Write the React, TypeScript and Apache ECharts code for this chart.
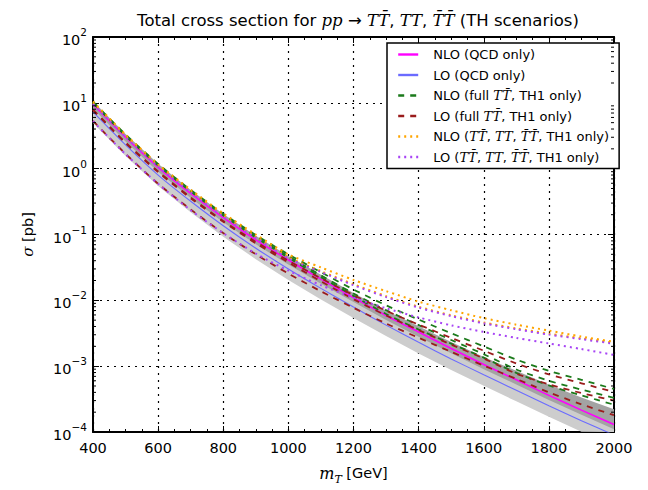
import React, { useEffect, useRef } from "react";
import * as echarts from "echarts";

// ---------------- data ----------------
const masses = [400, 500, 600, 700, 800, 900, 1000, 1100, 1200, 1300, 1400, 1500, 1600, 1700, 1800, 1900, 2000];

const nloQcd = [9.5, 3.0, 1.05, 0.42, 0.18, 0.083, 0.041, 0.021, 0.011, 0.0059, 0.0033, 0.00185, 0.00106, 0.00062, 0.00036, 0.000215, 0.00013];
const loQcd = [7.3, 2.3, 0.8, 0.32, 0.136, 0.062, 0.03, 0.0152, 0.0079, 0.0042, 0.0023, 0.00129, 0.00074, 0.00043, 0.00025, 0.000148, 0.00009];

const nloBandHi = [10.6, 3.36, 1.19, 0.475, 0.205, 0.0955, 0.0472, 0.0244, 0.0129, 0.00702, 0.00403, 0.00233, 0.00138, 0.00085, 0.00052, 0.000335, 0.000221];
const nloBandLo = [8.2, 2.58, 0.9, 0.36, 0.154, 0.071, 0.035, 0.0179, 0.0094, 0.00503, 0.0028, 0.00157, 0.0009, 0.000527, 0.000306, 0.000183, 0.00011];
const loBandHi = [9.5, 3.0, 1.04, 0.416, 0.177, 0.0806, 0.039, 0.0198, 0.0103, 0.00546, 0.003, 0.00168, 0.00096, 0.00056, 0.000325, 0.000192, 0.000117];
const loBandLo = [4.96, 1.56, 0.544, 0.218, 0.0925, 0.0422, 0.0204, 0.0103, 0.00537, 0.00286, 0.00156, 0.000877, 0.000503, 0.000292, 0.00017, 0.000101, 0.0000612];

const nloFullA = [10.4, 3.3, 1.18, 0.475, 0.207, 0.098, 0.05, 0.0267, 0.0146, 0.0084, 0.0051, 0.00316, 0.002, 0.00126, 0.00085, 0.00062, 0.00045];
const nloFullB = [10.2, 3.22, 1.15, 0.46, 0.2, 0.093, 0.047, 0.024, 0.0127, 0.0071, 0.0042, 0.0025, 0.00152, 0.00089, 0.0006, 0.00044, 0.00033];
const nloFullC = [10.0, 3.15, 1.12, 0.45, 0.195, 0.09, 0.0445, 0.0225, 0.0117, 0.0062, 0.0036, 0.0022, 0.00135, 0.00079, 0.00051, 0.00036, 0.00026];

const loFullA = [7.9, 2.5, 0.91, 0.366, 0.161, 0.0774, 0.04, 0.0216, 0.012, 0.00697, 0.00428, 0.00269, 0.00172, 0.0011, 0.00075, 0.00055, 0.000405];
const loFullB = [7.75, 2.45, 0.885, 0.354, 0.156, 0.0735, 0.0376, 0.0194, 0.0104, 0.0059, 0.00353, 0.00213, 0.00131, 0.00077, 0.00053, 0.00039, 0.0003];
const loFullC = [5.3, 1.68, 0.59, 0.24, 0.105, 0.05, 0.0255, 0.0137, 0.0077, 0.00445, 0.0027, 0.00165, 0.00102, 0.00064, 0.0004, 0.000263, 0.00018];

const nloAllA = [10.5, 3.3, 1.17, 0.48, 0.21, 0.1, 0.05, 0.0316, 0.0204, 0.0138, 0.00955, 0.00708, 0.00537, 0.00427, 0.00347, 0.00282, 0.00234];
const nloAllB = [9.9, 3.12, 1.1, 0.45, 0.193, 0.092, 0.0452, 0.0278, 0.0176, 0.0116, 0.008, 0.00594, 0.00462, 0.00375, 0.00312, 0.00265, 0.00226];
const loAllA = [9.55, 3.02, 1.07, 0.436, 0.186, 0.0891, 0.0437, 0.0269, 0.017, 0.0112, 0.00776, 0.00575, 0.00447, 0.00363, 0.00302, 0.00257, 0.00219];
const loAllB = [5.25, 1.66, 0.589, 0.234, 0.105, 0.0513, 0.0282, 0.017, 0.011, 0.00759, 0.0055, 0.00417, 0.00331, 0.00269, 0.00221, 0.00182, 0.00148];

const decades = [1e-4, 1e-3, 1e-2, 1e-1, 1, 10];
const minorMultipliers = [2, 3, 4, 5, 6, 7, 8, 9];

const NAME_NLO_QCD = "NLO (QCD only)";
const NAME_LO_QCD = "LO (QCD only)";
const NAME_NLO_FULL = "NLO (full TT\u0304, TH1 only)";
const NAME_LO_FULL = "LO (full TT\u0304, TH1 only)";
const NAME_NLO_ALL = "NLO (TT\u0304, TT, T\u0304T\u0304, TH1 only)";
const NAME_LO_ALL = "LO (TT\u0304, TT, T\u0304T\u0304, TH1 only)";

const legendRich: Record<string, string> = {
  [NAME_NLO_QCD]: "NLO (QCD only)",
  [NAME_LO_QCD]: "LO (QCD only)",
  [NAME_NLO_FULL]: "NLO (full {m|TT\u0304}, TH1 only)",
  [NAME_LO_FULL]: "LO (full {m|TT\u0304}, TH1 only)",
  [NAME_NLO_ALL]: "NLO ({m|TT\u0304}, {m|TT}, {m|T\u0304T\u0304}, TH1 only)",
  [NAME_LO_ALL]: "LO ({m|TT\u0304}, {m|TT}, {m|T\u0304T\u0304}, TH1 only)",
};

const SANS = "DejaVu Sans";
const SERIF = "DejaVu Serif";

const superDigits = (v: number) => {
  const e = Math.round(Math.log10(v));
  return "{b|10}{s|" + (e < 0 ? "\u2212" + -e : String(e)) + "}";
};

function lineSeries(name: string, values: number[], color: string, width: number, type: any, z: number) {
  return {
    type: "line",
    name,
    data: masses.map((m, i) => [m, values[i]]),
    symbol: "none",
    showSymbol: false,
    smooth: 0.25,
    clip: true,
    silent: true,
    z,
    lineStyle: { color, width, type, cap: "butt" },
    itemStyle: { color },
  };
}

function bandSeries(hi: number[], lo: number[], color: string, z: number) {
  return {
    type: "custom",
    coordinateSystem: "cartesian2d",
    silent: true,
    z,
    data: [[masses[0], hi[0]]],
    renderItem: (params: any, api: any) => {
      const cs = params.coordSys;
      const top = masses.map((m, i) => api.coord([m, hi[i]]));
      const bot = masses.map((m, i) => api.coord([m, lo[i]])).reverse();
      const pts = (echarts.graphic as any).clipPointsByRect(top.concat(bot), {
        x: cs.x,
        y: cs.y,
        width: cs.width,
        height: cs.height,
      });
      return { type: "polygon", shape: { points: pts }, style: { fill: color, stroke: "none" } };
    },
  };
}

export default function App() {
  const ref = useRef<HTMLDivElement>(null);

  useEffect(() => {
    const chart = echarts.init(ref.current!, undefined, { renderer: "svg" });

    const minorTickData: number[][] = [];
    decades.forEach((d) => minorMultipliers.forEach((k) => minorTickData.push([masses[0], d * k])));

    const dashed = [6, 6];
    const dotted = [2, 4];

    const option: any = {
      animation: false,
      backgroundColor: "#ffffff",
      title: {
        text: "Total cross section for {m|pp} \u2192 {m|TT\u0304}, {m|TT}, {m|T\u0304T\u0304} (TH scenarios)",
        left: 353,
        top: 7,
        textAlign: "center",
        textStyle: {
          fontFamily: SANS,
          fontSize: 16.5,
          fontWeight: "normal",
          color: "#000",
          rich: {
            m: { fontFamily: SERIF, fontStyle: "italic", fontSize: 16.5, color: "#000" },
          },
        },
      },
      legend: {
        orient: "vertical",
        left: 387,
        top: 43,
        padding: [5, 10, 5, 10],
        itemGap: 7.5,
        itemWidth: 20,
        itemHeight: 14,
        borderColor: "#000",
        borderWidth: 1.5,
        borderRadius: 0,
        backgroundColor: "#ffffff",
        selectedMode: false,
        itemStyle: { opacity: 0 },
        lineStyle: { width: 2.4 },
        data: [NAME_NLO_QCD, NAME_LO_QCD, NAME_NLO_FULL, NAME_LO_FULL, NAME_NLO_ALL, NAME_LO_ALL],
        formatter: (name: string) => legendRich[name] || name,
        textStyle: {
          fontFamily: SANS,
          fontSize: 13,
          color: "#000",
          padding: [0, 0, 0, 10],
          rich: {
            m: { fontFamily: SERIF, fontStyle: "italic", fontSize: 13, color: "#000" },
          },
        },
      },
      grid: { left: 93, right: 34, top: 37, bottom: 49, containLabel: false },
      xAxis: [
        {
          type: "value",
          min: 400,
          max: 2000,
          interval: 200,
          position: "bottom",
          name: "{i|m}{sub|T}{n| [GeV]}",
          nameLocation: "middle",
          nameGap: 33,
          nameTextStyle: {
            rich: {
              i: { fontFamily: SERIF, fontStyle: "italic", fontSize: 16, lineHeight: 20, verticalAlign: "top", color: "#000" },
              sub: { fontFamily: SERIF, fontStyle: "italic", fontSize: 11, verticalAlign: "bottom", color: "#000" },
              n: { fontFamily: SANS, fontSize: 14.5, verticalAlign: "top", color: "#000" },
            },
          },
          axisLine: { show: true, onZero: false, lineStyle: { color: "#000", width: 2 } },
          axisTick: { show: true, inside: true, length: 6, lineStyle: { color: "#000", width: 1 } },
          minorTick: { show: true, splitNumber: 4, length: 3, lineStyle: { color: "#000", width: 1 } },
          axisLabel: {
            show: true,
            margin: 8,
            fontFamily: SANS,
            fontSize: 14.5,
            color: "#000",
            formatter: (v: number) => String(v),
          },
          splitLine: { show: true, lineStyle: { color: "#000", width: 1.2, type: [2, 5] } },
          minorSplitLine: { show: false },
        },
        {
          type: "value",
          min: 400,
          max: 2000,
          interval: 200,
          position: "top",
          axisLine: { show: true, onZero: false, lineStyle: { color: "#000", width: 2 } },
          axisTick: { show: true, inside: true, length: 6, lineStyle: { color: "#000", width: 1 } },
          minorTick: { show: true, splitNumber: 4, length: 3, lineStyle: { color: "#000", width: 1 } },
          axisLabel: { show: false },
          splitLine: { show: false },
        },
      ],
      yAxis: [
        {
          type: "log",
          logBase: 10,
          min: 1e-4,
          max: 1e2,
          splitNumber: 6,
          position: "left",
          name: "{i|\u03c3}{n| [pb]}",
          nameLocation: "middle",
          nameRotate: 90,
          nameGap: 58,
          nameTextStyle: {
            rich: {
              i: { fontFamily: SERIF, fontStyle: "italic", fontSize: 15, color: "#000" },
              n: { fontFamily: SANS, fontSize: 14.5, color: "#000" },
            },
          },
          axisLine: { show: true, onZero: false, lineStyle: { color: "#000", width: 2 } },
          axisTick: { show: true, inside: true, length: 6, lineStyle: { color: "#000", width: 1 } },
          axisLabel: {
            show: true,
            margin: 6,
            formatter: (v: number) => superDigits(v),
            rich: {
              b: { fontFamily: SANS, fontSize: 14.5, lineHeight: 21, verticalAlign: "bottom", color: "#000" },
              s: { fontFamily: SANS, fontSize: 10.5, verticalAlign: "top", color: "#000" },
            },
          },
          splitLine: { show: true, lineStyle: { color: "#000", width: 1.2, type: [2, 5] } },
        },
        {
          type: "log",
          logBase: 10,
          min: 1e-4,
          max: 1e2,
          splitNumber: 6,
          position: "right",
          axisLine: { show: true, onZero: false, lineStyle: { color: "#000", width: 2 } },
          axisTick: { show: true, inside: true, length: 6, lineStyle: { color: "#000", width: 1 } },
          axisLabel: { show: false },
          splitLine: { show: false },
        },
      ],
      series: [
        bandSeries(loBandHi, loBandLo, "#cdcdcd", 1),
        bandSeries(nloBandHi, nloBandLo, "#a3a3a3", 1),
        {
          type: "custom",
          coordinateSystem: "cartesian2d",
          silent: true,
          z: 5,
          data: minorTickData,
          renderItem: (params: any, api: any) => {
            const cs = params.coordSys;
            const y = api.coord([api.value(0), api.value(1)])[1];
            const st = { stroke: "#000", lineWidth: 1 };
            return {
              type: "group",
              children: [
                { type: "line", shape: { x1: cs.x, y1: y, x2: cs.x + 3, y2: y }, style: st },
                { type: "line", shape: { x1: cs.x + cs.width - 3, y1: y, x2: cs.x + cs.width, y2: y }, style: st },
              ],
            };
          },
        },
        lineSeries(NAME_NLO_QCD, nloQcd, "#ff00ff", 1.6, "solid", 3),
        lineSeries(NAME_LO_QCD, loQcd, "#6b6bff", 1.1, "solid", 3),
        lineSeries(NAME_NLO_FULL, nloFullA, "#1b7a1b", 1.8, dashed, 3),
        lineSeries(NAME_NLO_FULL, nloFullB, "#1b7a1b", 1.8, dashed, 3),
        lineSeries(NAME_NLO_FULL, nloFullC, "#1b7a1b", 1.8, dashed, 3),
        lineSeries(NAME_LO_FULL, loFullA, "#9a1c1c", 1.8, dashed, 3),
        lineSeries(NAME_LO_FULL, loFullB, "#9a1c1c", 1.8, dashed, 3),
        lineSeries(NAME_LO_FULL, loFullC, "#9a1c1c", 1.8, dashed, 3),
        lineSeries(NAME_NLO_ALL, nloAllA, "#ffa500", 2, dotted, 3),
        lineSeries(NAME_NLO_ALL, nloAllB, "#ffa500", 2, dotted, 3),
        lineSeries(NAME_LO_ALL, loAllA, "#a845f5", 2, dotted, 3),
        lineSeries(NAME_LO_ALL, loAllB, "#a845f5", 2, dotted, 3),
      ],
    };

    chart.setOption(option);
    return () => chart.dispose();
  }, []);

  return (
    <div
      ref={ref}
      style={{ position: "absolute", left: 0, top: 0, width: 648, height: 490, background: "#fff" }}
    />
  );
}
